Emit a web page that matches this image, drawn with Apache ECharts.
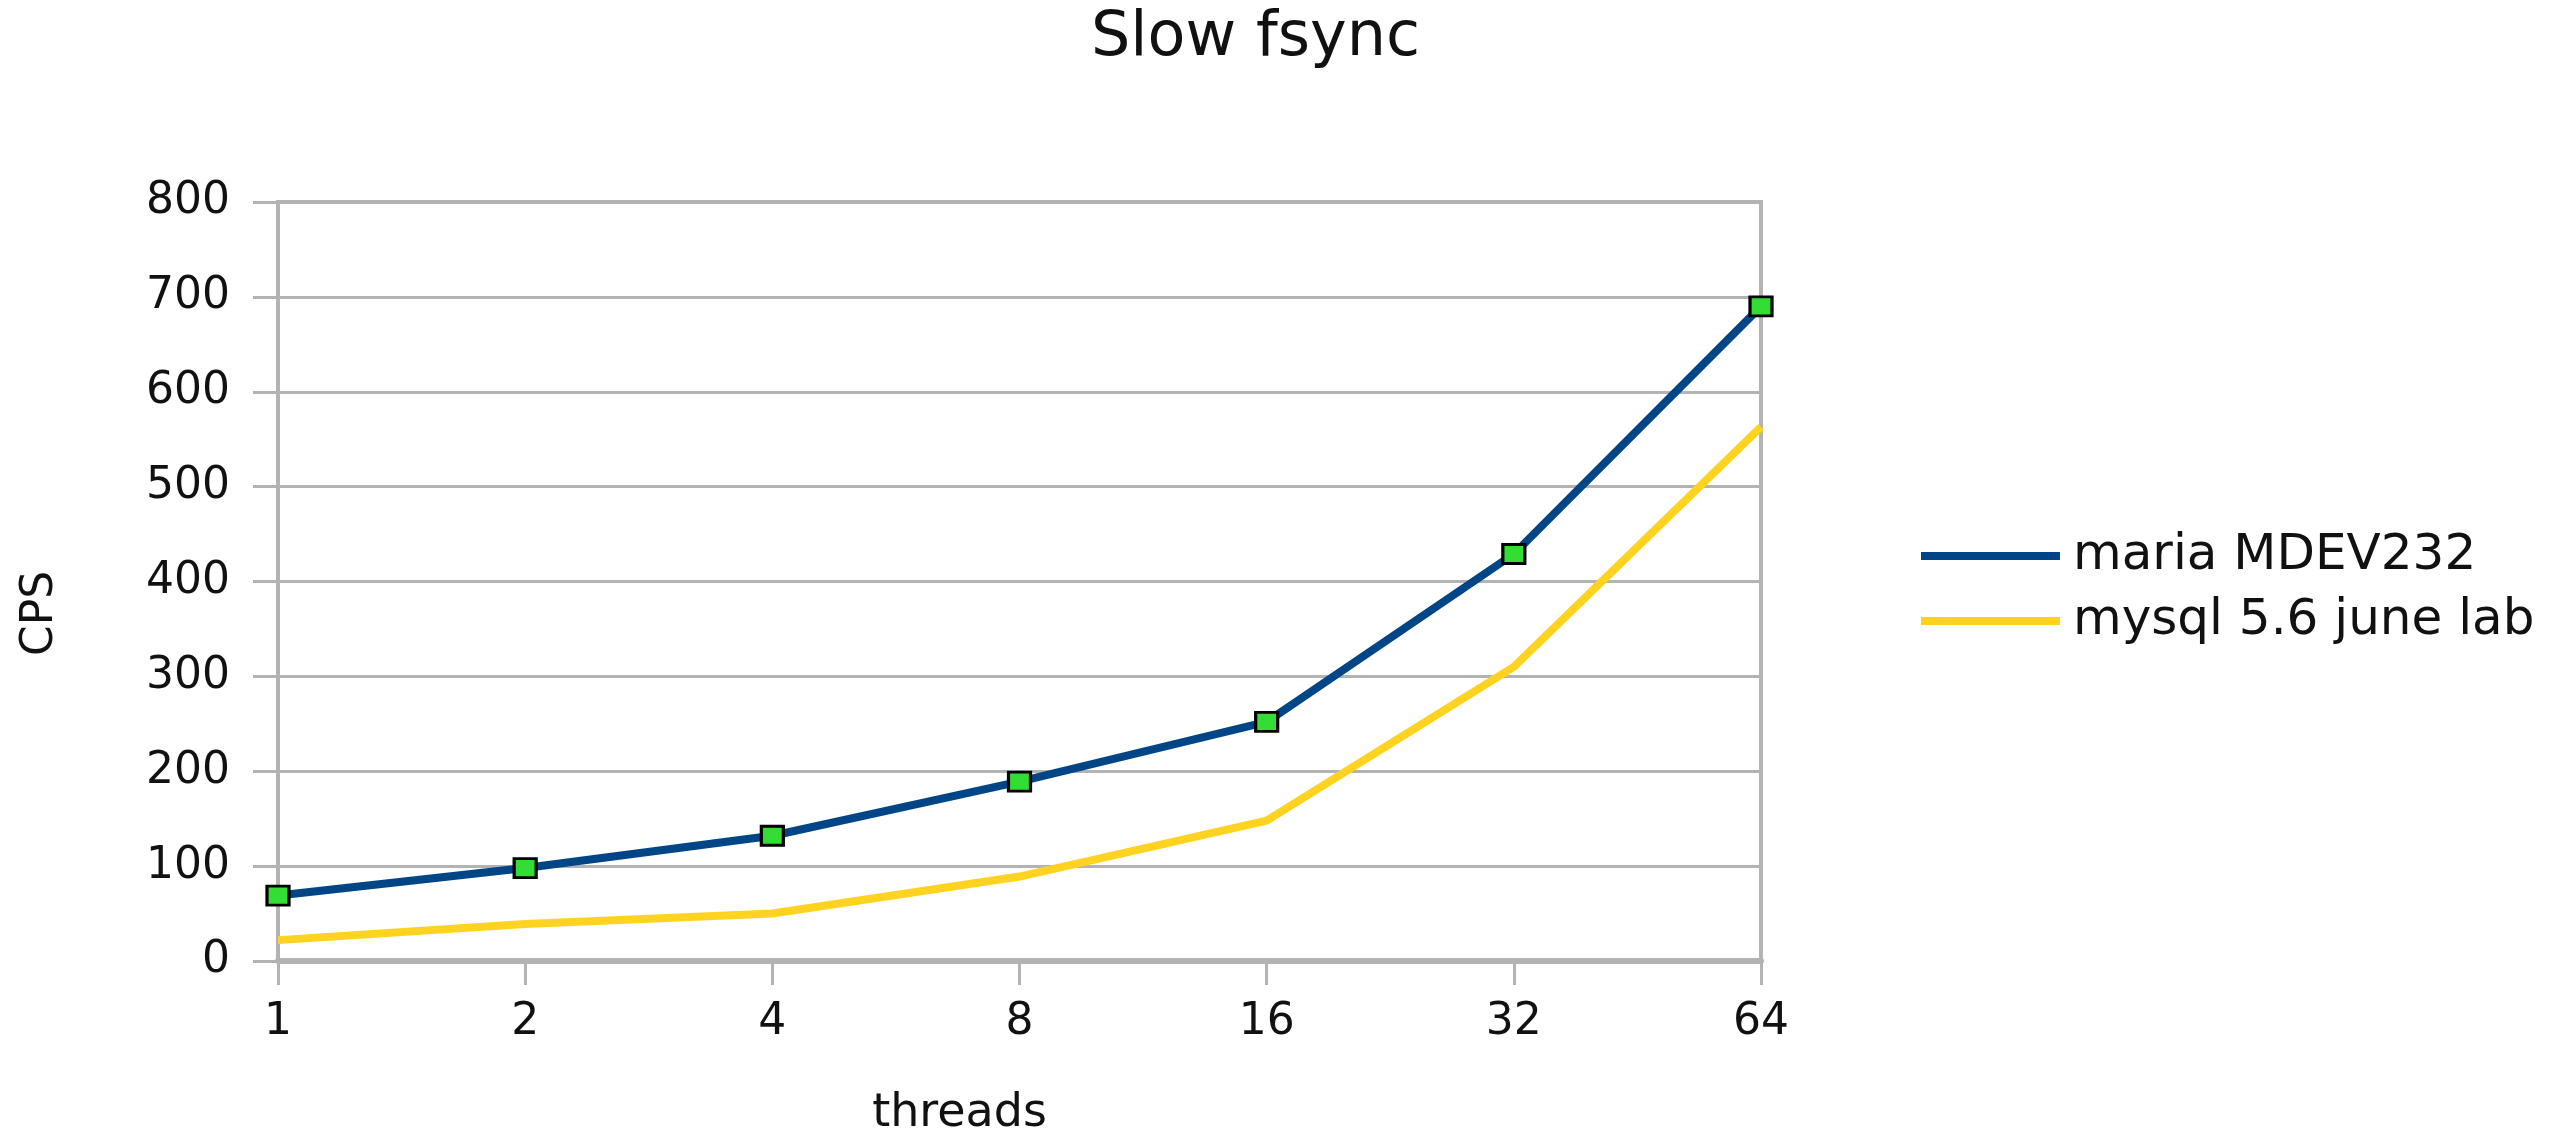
<!DOCTYPE html>
<html>
<head>
<meta charset="utf-8">
<script src="https://cdn.jsdelivr.net/npm/echarts@6/dist/echarts.min.js"></script>
<style>
html,body{margin:0;padding:0;background:#fff;}
#chart{width:2563px;height:1142px;}
</style>
</head>
<body>
<div id="chart"></div>
<script>
const categories = ['1', '2', '4', '8', '16', '32', '64'];
const mariaValues = [69, 98, 132, 189, 252, 429, 690];
const mysqlValues = [22, 39, 50, 89, 148, 310, 563];
const seriesNames = ['maria MDEV232', 'mysql 5.6 june lab'];
const yTicks = [0, 100, 200, 300, 400, 500, 600, 700, 800];

const FONT = '"DejaVu Sans", "Liberation Sans", sans-serif';
const chart = echarts.init(document.getElementById('chart'), null, {renderer: 'canvas'});
chart.setOption({
  animation: false,
  backgroundColor: '#ffffff',
  title: {
    text: 'Slow fsync',
    left: 1091,
    top: 8,
    padding: 0,
    textStyle: {fontFamily: FONT, fontSize: 62, fontWeight: 'normal', color: '#111'}
  },
  legend: {
    orient: 'vertical',
    left: 1921,
    top: 531,
    padding: 0,
    itemWidth: 139,
    itemHeight: 8,
    itemGap: 15,
    icon: 'rect',
    textStyle: {fontFamily: FONT, fontSize: 50, color: '#111', lineHeight: 50, padding: [0, 0, 0, 8]},
    data: [
      {name: seriesNames[0], itemStyle: {color: '#004586', borderWidth: 0}},
      {name: seriesNames[1], itemStyle: {color: '#ffd320', borderWidth: 0}}
    ]
  },
  grid: {
    left: 278, right: 802, top: 202, bottom: 173,
    show: true, borderColor: '#b3b3b3', borderWidth: 4, backgroundColor: 'transparent'
  },
  xAxis: {
    type: 'category',
    data: categories,
    boundaryGap: false,
    name: 'threads',
    nameLocation: 'middle',
    nameGap: 130,
    nameTextStyle: {fontFamily: FONT, fontSize: 46, color: '#111', padding: [0, 120, 0, 0]},
    axisLine: {show: true, lineStyle: {color: '#b3b3b3', width: 6}},
    axisTick: {show: true, length: 24, lineStyle: {color: '#b3b3b3', width: 3}},
    axisLabel: {fontFamily: FONT, fontSize: 44, color: '#111', margin: 40},
    splitLine: {show: false}
  },
  yAxis: {
    type: 'value',
    min: yTicks[0],
    max: yTicks[yTicks.length - 1],
    interval: 100,
    name: 'CPS',
    nameLocation: 'middle',
    nameRotate: 90,
    nameGap: 215,
    nameTextStyle: {fontFamily: FONT, fontSize: 44, color: '#111', padding: [0, 64, 0, 0]},
    axisLine: {show: true, lineStyle: {color: '#b3b3b3', width: 4}},
    axisTick: {show: true, length: 25, lineStyle: {color: '#b3b3b3', width: 3}},
    axisLabel: {fontFamily: FONT, fontSize: 44, color: '#111', margin: 48},
    splitLine: {show: true, lineStyle: {color: '#b3b3b3', width: 3}}
  },
  series: [
    {
      name: seriesNames[0],
      type: 'line',
      data: mariaValues,
      z: 3,
      symbol: 'rect',
      symbolSize: [22, 19],
      showAllSymbol: true,
      lineStyle: {color: '#004586', width: 8},
      itemStyle: {color: '#33dd33', borderColor: '#000', borderWidth: 3}
    },
    {
      name: seriesNames[1],
      type: 'line',
      data: mysqlValues,
      z: 2,
      symbol: 'none',
      lineStyle: {color: '#ffd320', width: 8},
      itemStyle: {color: '#ffd320'}
    }
  ]
});
</script>
</body>
</html>
